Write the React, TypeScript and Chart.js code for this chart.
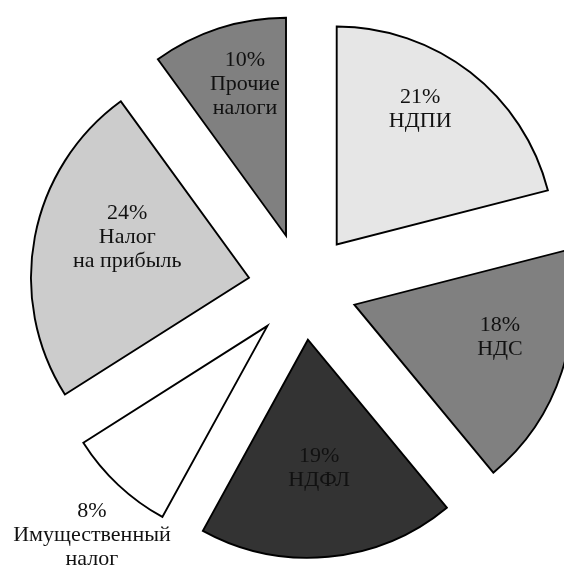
import React, { useEffect, useRef } from 'react';
import { Chart, registerables, ArcElement } from 'chart.js';

Chart.register(...registerables);

// ---- data ----
const categories: string[][] = [
  ['НДПИ'],
  ['НДС'],
  ['НДФЛ'],
  ['Имущественный', 'налог'],
  ['Налог', 'на прибыль'],
  ['Прочие', 'налоги'],
];
const shares: number[] = [21, 18, 19, 8, 24, 10];

// ---- styles / layout ----
const fills = ['#e6e6e6', '#808080', '#333333', '#ffffff', '#cccccc', '#808080'];
const explode = [55, 54, 52, 52, 55, 55];
// label distance from the pie centre and angular nudge (deg) from slice middle
const labelDist = [214, 203, 181, 325, 183, 212];
const labelTurn = [-4.6, -4, 0.3, -2.7, 5.4, 2.1];
const FONT = '22px "Liberation Serif", "DejaVu Serif", serif';
const LINE_H = 24;

const explodePlugin = {
  id: 'explodeSlices',
  beforeDatasetsDraw(chart: any) {
    const meta = chart.getDatasetMeta(0);
    meta.data.forEach((arc: any, i: number) => {
      if (arc.__exploded) return;
      arc.__exploded = true;
      const base = ArcElement.prototype.draw;
      arc.draw = function (ctx: CanvasRenderingContext2D) {
        const mid = (this.startAngle + this.endAngle) / 2;
        const d = explode[i] || 0;
        ctx.save();
        ctx.translate(Math.cos(mid) * d, Math.sin(mid) * d);
        base.call(this, ctx);
        ctx.restore();
      };
    });
  },
};

const labelPlugin = {
  id: 'sliceLabels',
  afterDatasetsDraw(chart: any) {
    const ctx: CanvasRenderingContext2D = chart.ctx;
    const meta = chart.getDatasetMeta(0);
    ctx.save();
    ctx.font = FONT;
    ctx.fillStyle = '#111';
    ctx.textAlign = 'center';
    ctx.textBaseline = 'middle';
    meta.data.forEach((arc: any, i: number) => {
      const { x, y, startAngle, endAngle } = arc.getProps(['x', 'y', 'startAngle', 'endAngle'], true);
      const a = (startAngle + endAngle) / 2 + (labelTurn[i] * Math.PI) / 180;
      const cx = x + Math.cos(a) * labelDist[i];
      const cy = y + Math.sin(a) * labelDist[i];
      const lines = [`${chart.data.datasets[0].data[i]}%`, ...chart.data.labels[i]];
      const n = lines.length;
      lines.forEach((t: string, k: number) => {
        ctx.fillText(t, cx, cy + (k - (n - 1) / 2) * LINE_H);
      });
    });
    ctx.restore();
  },
};

export default function App() {
  const ref = useRef<HTMLCanvasElement>(null);
  useEffect(() => {
    document.body.style.margin = '0';
    const chart = new Chart(ref.current!, {
      type: 'pie',
      data: {
        labels: categories as any,
        datasets: [
          {
            data: shares,
            backgroundColor: fills,
            borderColor: '#000',
            borderWidth: 1.9,
            borderJoinStyle: 'miter',
            clip: false,
          } as any,
        ],
      },
      options: {
        animation: false,
        responsive: false,
        events: [],
        radius: 218,
        layout: { padding: { left: 42, top: 11, right: 0, bottom: 0 } },
        plugins: {
          legend: { display: false },
          tooltip: { enabled: false },
        },
      } as any,
      plugins: [explodePlugin, labelPlugin],
    });
    return () => chart.destroy();
  }, []);
  return (
    <div style={{ width: 564, height: 565, background: '#fff' }}>
      <canvas ref={ref} width={564} height={565} style={{ display: 'block' }} />
    </div>
  );
}
